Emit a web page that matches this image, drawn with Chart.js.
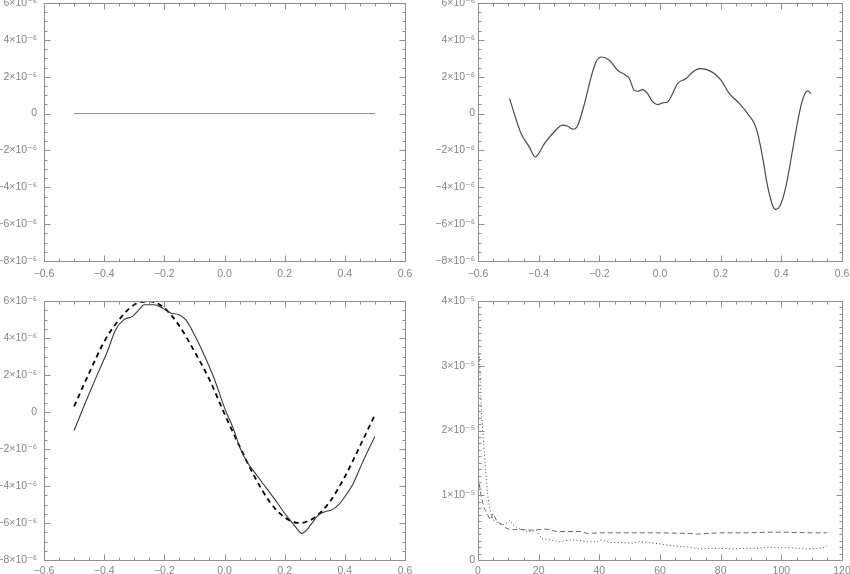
<!DOCTYPE html>
<html>
<head>
<meta charset="utf-8">
<script src="https://cdn.jsdelivr.net/npm/chart.js@4.4.1/dist/chart.umd.min.js"></script>
<style>
    html, body { margin: 0; padding: 0; background: #fff; }
    body { width: 850px; height: 574px; position: relative; overflow: hidden; }
    canvas { position: absolute; }
</style>
</head>
<body>
<canvas id="panel1" width="425" height="290" style="left:0;top:0"></canvas>
<canvas id="panel2" width="420" height="290" style="left:430px;top:0"></canvas>
<canvas id="panel3" width="425" height="284" style="left:0;top:290px"></canvas>
<canvas id="panel4" width="420" height="284" style="left:430px;top:290px"></canvas>
<script>
// Panel 1: flat line (units of 1e-6)
const p1X = [-0.5, 0.5];
const p1Y = [0, 0];

// Panel 2: single curve (units of 1e-6)
const p2X = [-0.496, -0.458, -0.431, -0.411, -0.381, -0.354, -0.321, -0.304, -0.286, -0.271, -0.249, -0.227, -0.211, -0.194, -0.167, -0.140, -0.118, -0.101, -0.085, -0.074, -0.057, -0.041, -0.024, -0.008, 0.009, 0.025, 0.036, 0.058, 0.086, 0.108, 0.132, 0.152, 0.179, 0.201, 0.229, 0.262, 0.289, 0.311, 0.322, 0.338, 0.355, 0.371, 0.382, 0.399, 0.415, 0.437, 0.459, 0.473, 0.487, 0.498];
const p2Y = [0.81, -1.08, -1.81, -2.35, -1.63, -1.08, -0.63, -0.69, -0.85, -0.63, 0.54, 1.99, 2.80, 3.07, 2.89, 2.35, 2.13, 1.90, 1.26, 1.21, 1.30, 1.08, 0.63, 0.49, 0.58, 0.63, 0.90, 1.63, 1.90, 2.26, 2.44, 2.40, 2.17, 1.81, 1.08, 0.54, 0.00, -0.54, -1.08, -2.35, -3.97, -4.97, -5.20, -4.88, -3.97, -1.99, 0.00, 0.90, 1.23, 1.08];

// Panel 3: solid curve and dashed reference curve (units of 1e-6)
const p3SolidX = [-0.5, -0.475, -0.456, -0.423, -0.389, -0.362, -0.334, -0.306, -0.284, -0.268, -0.234, -0.207, -0.179, -0.151, -0.129, -0.1, -0.068, -0.035, 0.003, 0.029, 0.052, 0.074, 0.107, 0.140, 0.173, 0.196, 0.218, 0.240, 0.257, 0.273, 0.290, 0.312, 0.334, 0.356, 0.378, 0.400, 0.428, 0.456, 0.478, 0.5];
const p3SolidY = [-1.0, 0.0, 0.76, 2.02, 3.28, 4.45, 4.99, 5.17, 5.53, 5.8, 5.8, 5.62, 5.35, 5.26, 4.99, 4.18, 3.1, 1.84, 0.1, -0.88, -1.96, -2.68, -3.41, -4.13, -4.85, -5.39, -5.84, -6.29, -6.56, -6.38, -6.02, -5.57, -5.39, -5.30, -5.03, -4.58, -3.86, -2.83, -2.05, -1.33];
const p3DashX = [-0.5, -0.45, -0.4, -0.35, -0.3, -0.25, -0.2, -0.15, -0.1, -0.05, 0, 0.05, 0.1, 0.15, 0.2, 0.25, 0.3, 0.35, 0.4, 0.45, 0.5];
const p3DashY = [0.3, 2.1, 3.8, 5.0, 5.8, 5.98, 5.62, 4.65, 3.28, 1.75, -0.1, -1.85, -3.5, -4.85, -5.7, -6.0, -5.7, -4.85, -3.5, -1.85, -0.15];

// Panel 4: dashed and dotted series (units of 1e-5)
const p4DashX = [0, 1, 2, 3, 4, 5, 6, 7, 8, 9, 10, 12, 15, 18, 20, 22, 24, 26, 30, 34, 36, 40, 50, 60, 70, 72, 80, 90, 95, 100, 110, 115];
const p4DashY = [1.3, 1.0, 0.8, 0.72, 0.62, 0.72, 0.62, 0.57, 0.55, 0.5, 0.48, 0.47, 0.47, 0.46, 0.47, 0.48, 0.46, 0.44, 0.44, 0.44, 0.41, 0.42, 0.42, 0.42, 0.41, 0.40, 0.42, 0.42, 0.43, 0.43, 0.42, 0.42];
const p4DotX = [0.4, 0.8, 1.2, 1.76, 2.3, 2.86, 3.4, 4.2, 5, 6, 8, 9.5, 10.5, 11.6, 13.3, 15, 17, 19.3, 21, 23.7, 27, 29, 31, 33.6, 36, 39, 40.8, 43.5, 46.6, 51, 53.2, 56.5, 59.8, 62, 66.4, 69.7, 73, 76.3, 79.6, 84, 87.3, 91.7, 96.1, 99.4, 102.7, 106, 108.2, 111.5, 113.7, 115];
const p4DotY = [3.19, 2.73, 2.21, 1.88, 1.54, 1.18, 0.93, 0.72, 0.62, 0.59, 0.54, 0.57, 0.61, 0.54, 0.49, 0.46, 0.44, 0.46, 0.33, 0.31, 0.28, 0.30, 0.31, 0.30, 0.28, 0.28, 0.31, 0.27, 0.27, 0.26, 0.28, 0.27, 0.25, 0.23, 0.21, 0.20, 0.17, 0.18, 0.18, 0.17, 0.18, 0.18, 0.20, 0.19, 0.19, 0.18, 0.17, 0.18, 0.19, 0.22];

const AXIS_COLOR = '#8f8f8f';
const LABEL_COLOR = '#858585';
const SUP = { '-': '⁻', '0': '⁰', '1': '¹', '2': '²', '3': '³', '4': '⁴', '5': '⁵', '6': '⁶', '7': '⁷', '8': '⁸', '9': '⁹' };

function toPoints(xs, ys, scale) {
    return xs.map((x, i) => ({ x: x, y: ys[i] * scale }));
}

// IDL style tick label: 4×10⁻⁶
function sciLabel(value, exp) {
    const n = Math.round(value / Math.pow(10, exp));
    if (n === 0) return '0';
    const sup = String(exp).split('').map(c => SUP[c]).join('');
    return (n < 0 ? '−' : '') + Math.abs(n) + '×10' + sup;
}

// Box frame with inward major/minor ticks on all four sides
const idlAxes = {
    id: 'idlAxes',
    afterDatasetsDraw(chart, args, opts) {
        const { ctx, chartArea: a } = chart;
        const x = chart.scales.x, y = chart.scales.y;
        ctx.save();
        ctx.strokeStyle = AXIS_COLOR;
        ctx.lineWidth = 1;
        const l = Math.round(a.left) + 0.5, r = Math.round(a.right) + 0.5;
        const t = Math.round(a.top) + 0.5, b = Math.round(a.bottom) + 0.5;
        ctx.strokeRect(l, t, r - l, b - t);

        const isMajor = (scale, v) => scale.ticks.some(tk => Math.abs(tk.value - v) < opts.eps);
        ctx.beginPath();
        const nx = Math.round((x.max - x.min) / opts.xMinor);
        for (let i = 1; i < nx; i++) {
            const v = x.min + i * opts.xMinor;
            const len = isMajor(x, v) ? 6 : 3;
            const px = Math.round(x.getPixelForValue(v)) + 0.5;
            ctx.moveTo(px, b); ctx.lineTo(px, b - len);
            ctx.moveTo(px, t); ctx.lineTo(px, t + len);
        }
        const ny = Math.round((y.max - y.min) / opts.yMinor);
        for (let i = 1; i < ny; i++) {
            const v = y.min + i * opts.yMinor;
            const len = isMajor(y, v) ? 6 : 3;
            const py = Math.round(y.getPixelForValue(v)) + 0.5;
            ctx.moveTo(l, py); ctx.lineTo(l + len, py);
            ctx.moveTo(r, py); ctx.lineTo(r - len, py);
        }
        ctx.stroke();
        ctx.restore();
    }
};

function makePanel(id, cfg) {
    const font = { family: '"Liberation Sans", "DejaVu Sans", sans-serif', size: 10.5 };
    return new Chart(document.getElementById(id), {
        type: 'line',
        data: { datasets: cfg.datasets },
        options: {
            responsive: false,
            animation: false,
            devicePixelRatio: 1,
            layout: { padding: cfg.padding },
            plugins: {
                legend: { display: false },
                tooltip: { enabled: false },
                idlAxes: { xMinor: cfg.xMinor, yMinor: cfg.yMinor, eps: cfg.yMinor / 100 }
            },
            elements: { point: { radius: 0 }, line: { borderWidth: 1 } },
            scales: {
                x: {
                    type: 'linear',
                    min: cfg.xMin, max: cfg.xMax,
                    grid: { display: false, drawTicks: false },
                    border: { display: false },
                    ticks: {
                        stepSize: cfg.xStep, color: LABEL_COLOR, font: font, padding: cfg.xPad,
                        autoSkip: false, maxRotation: 0, callback: cfg.xLabel
                    },
                    afterFit(scale) { scale.height = cfg.xAxisHeight; scale.paddingLeft = 0; scale.paddingRight = 0; }
                },
                y: {
                    type: 'linear',
                    min: cfg.yMin, max: cfg.yMax,
                    grid: { display: false, drawTicks: false },
                    border: { display: false },
                    ticks: {
                        stepSize: cfg.yStep, color: LABEL_COLOR, font: font, padding: cfg.yPad,
                        autoSkip: false, callback: cfg.yLabel
                    },
                    afterFit(scale) { scale.width = cfg.yAxisWidth; scale.paddingTop = 0; scale.paddingBottom = 0; }
                }
            }
        },
        plugins: [idlAxes]
    });
}

const fracLabel = v => (Math.abs(v) < 1e-9 ? '0.0' : (v < 0 ? '−' : '') + Math.abs(v).toFixed(1));
const intLabel = v => String(Math.round(v));
const e6Label = v => sciLabel(v, -6);
const e5Label = v => sciLabel(v, -5);

const topBase = {
    xMin: -0.6, xMax: 0.6, xStep: 0.2, xMinor: 0.05,
    yMin: -8e-6, yMax: 6e-6, yStep: 2e-6, yMinor: 0.5e-6,
    xLabel: fracLabel, yLabel: e6Label
};

document.addEventListener("DOMContentLoaded", () => {
    makePanel('panel1', Object.assign({}, topBase, {
        padding: { left: 0, top: 3, right: 20, bottom: 0 },
        yAxisWidth: 44, xAxisHeight: 29, xPad: 7, yPad: 7,
        datasets: [{ data: toPoints(p1X, p1Y, 1e-6), borderColor: '#8a8a8a', borderWidth: 1 }]
    }));

    makePanel('panel2', Object.assign({}, topBase, {
        padding: { left: 0, top: 3, right: 8, bottom: 0 },
        yAxisWidth: 48, xAxisHeight: 29, xPad: 7, yPad: 3,
        datasets: [{ data: toPoints(p2X, p2Y, 1e-6), borderColor: '#4a4a4a', borderWidth: 1.2, cubicInterpolationMode: 'monotone' }]
    }));

    makePanel('panel3', Object.assign({}, topBase, {
        padding: { left: 0, top: 11, right: 20, bottom: 0 },
        yAxisWidth: 44, xAxisHeight: 14, xPad: 5, yPad: 7,
        datasets: [
            { data: toPoints(p3SolidX, p3SolidY, 1e-6), borderColor: '#3a3a3a', borderWidth: 1.1, cubicInterpolationMode: 'monotone' },
            { data: toPoints(p3DashX, p3DashY, 1e-6), borderColor: '#000000', borderWidth: 1.8, borderDash: [5, 4], cubicInterpolationMode: 'monotone' }
        ]
    }));

    makePanel('panel4', {
        xMin: 0, xMax: 120, xStep: 20, xMinor: 5,
        yMin: 0, yMax: 4e-5, yStep: 1e-5, yMinor: 1e-6,
        xLabel: intLabel, yLabel: e5Label,
        padding: { left: 0, top: 11, right: 8, bottom: 0 },
        yAxisWidth: 48, xAxisHeight: 14, xPad: 5, yPad: 3,
        datasets: [
            { data: toPoints(p4DashX, p4DashY, 1e-5), borderColor: '#6a6a6a', borderWidth: 1, borderDash: [5, 3] },
            { data: toPoints(p4DotX, p4DotY, 1e-5), borderColor: '#4a4a4a', borderWidth: 1, borderDash: [1, 2.5] }
        ]
    });
});
</script>
</body>
</html>
